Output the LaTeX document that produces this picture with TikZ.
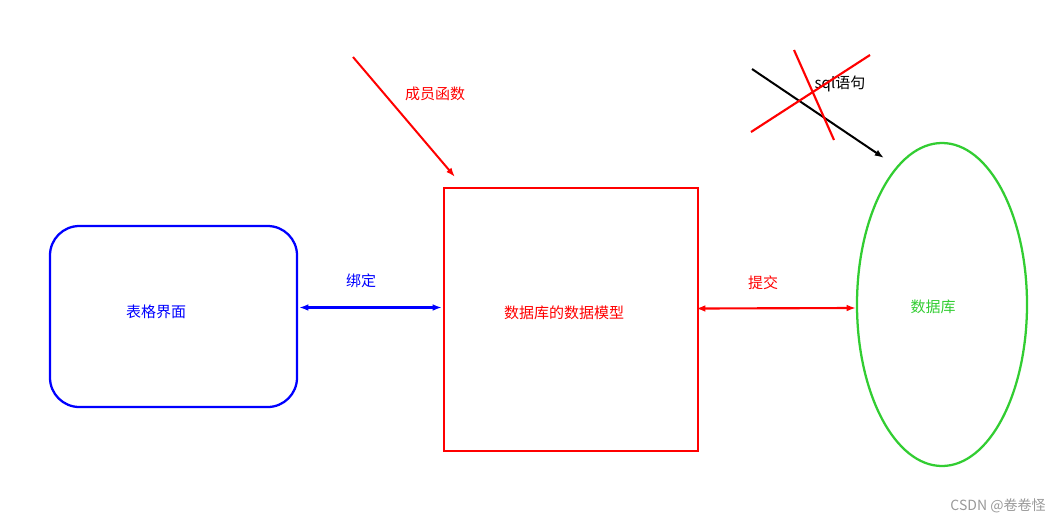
\documentclass[tikz,border=0pt]{standalone}
\usepackage{fontspec}
\setmainfont{Noto Sans CJK SC}
\usetikzlibrary{arrows.meta,shapes.geometric}
\definecolor{myblue}{RGB}{0,0,255}
\definecolor{myred}{RGB}{255,0,0}
\definecolor{mygreen}{RGB}{50,205,50}
\begin{document}
\begin{tikzpicture}[x=0.75pt,y=-0.75pt,
  lbl/.style={font=\fontsize{11.25}{13}\selectfont, inner sep=0pt},
  arr/.style={line width=1.5pt,-{Latex[length=7pt,width=5pt]}},
  darr/.style={line width=1.6pt,{Latex[length=7pt,width=5pt]}-{Latex[length=7pt,width=5pt]}}]
\useasboundingbox (0,0) rectangle (1064,522);
% nodes
\node[draw=myblue, line width=1.7pt, rounded corners=22pt, minimum width=247*0.75pt, minimum height=181*0.75pt, inner sep=0pt] (ui) at (173.5,316.5) {};
\node[lbl, text=myblue] (uit) at (156,312) {表格界面};
\node[draw=myred, line width=1.7pt, minimum width=254*0.75pt, minimum height=263*0.75pt, inner sep=0pt] (model) at (571,319.5) {};
\node[lbl, text=myred] (modelt) at (564,313) {数据库的数据模型};
\node[draw=mygreen, line width=1.7pt, ellipse, minimum width=170*0.75pt, minimum height=323*0.75pt, inner sep=0pt] (db) at (942,304.5) {};
\node[lbl, text=mygreen] (dbt) at (933,307) {数据库};
% labels
\node[lbl, text=myblue] (bind) at (361,281) {绑定};
\node[lbl, text=myred] (commit) at (763,283) {提交};
\node[lbl, text=myred] (member) at (435,94) {成员函数};
\node[lbl, text=black] (sql) at (840,84) {sql语句};
\node[lbl, text=gray!80, font=\fontsize{10.5}{12}\selectfont] (wm) at (998,506) {CSDN @卷卷怪};
% coordinates
\coordinate (bL) at (299,307.5);
\coordinate (bR) at (442,307.5);
\coordinate (cL) at (696,308.5);
\coordinate (cR) at (856,308);
\coordinate (m0) at (353,57);
\coordinate (m1) at (455,177);
\coordinate (s0) at (752,69);
\coordinate (s1) at (884,158);
\coordinate (x1a) at (751,132);
\coordinate (x1b) at (870,55);
\coordinate (x2a) at (794,50);
\coordinate (x2b) at (834,140);
% connectors
\draw[darr, myblue] (bL) -- (bR);
\draw[darr, myred] (cL) -- (cR);
\draw[arr, myred] (m0) -- (m1);
\draw[arr, black] (s0) -- (s1);
\draw[myred, line width=1.6pt] (x1a) -- (x1b);
\draw[myred, line width=1.6pt] (x2a) -- (x2b);
\end{tikzpicture}
\end{document}
